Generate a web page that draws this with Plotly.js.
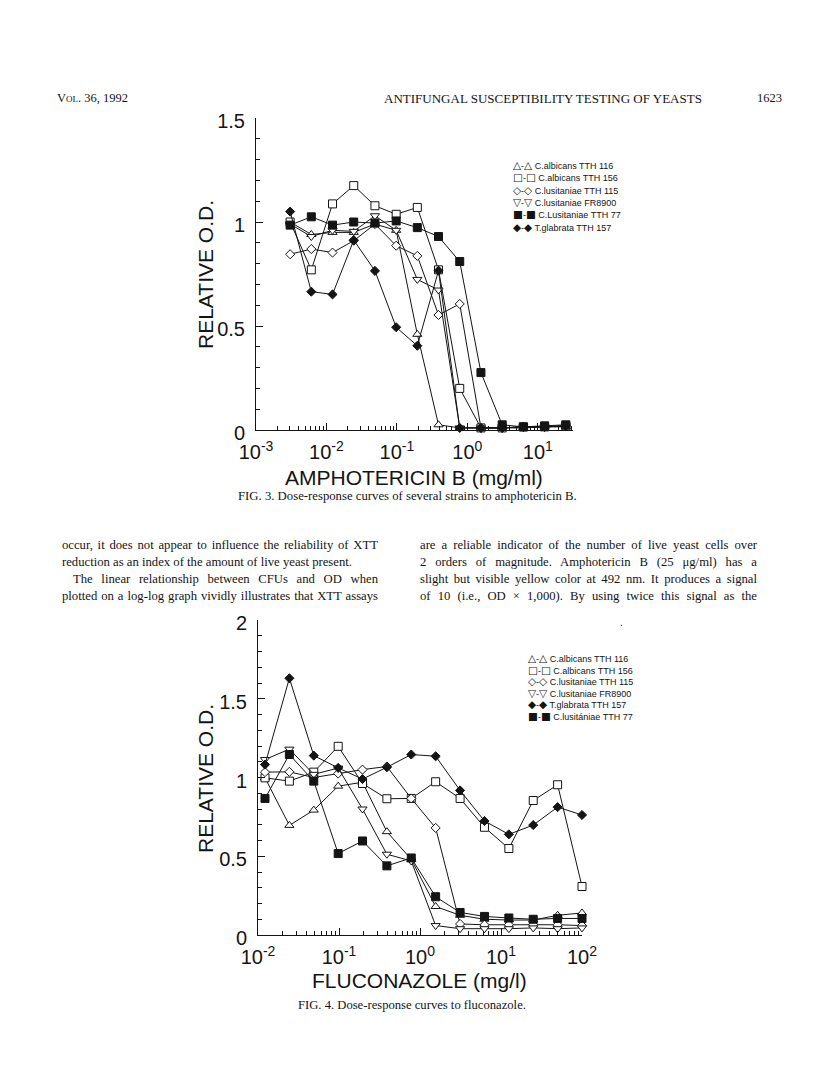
<!DOCTYPE html>
<html>
<head>
<meta charset="utf-8">
<script src="https://cdn.plot.ly/plotly-3.0.1.min.js"></script>
<style>
  html, body { margin: 0; padding: 0; background: #ffffff; }
  #page { position: relative; width: 816px; height: 1092px; overflow: hidden; }
  #chart { position: absolute; left: 0; top: 0; width: 816px; height: 1092px; }
  .t { position: absolute; font-family: "Liberation Serif", "DejaVu Serif", serif; color: #141414; white-space: nowrap; line-height: 1; }
  .j { text-align: justify; text-align-last: justify; white-space: normal; }
</style>
</head>
<body>
<div id="page">
  <div id="chart"></div>
  <div class="t" id="hdrL" style="left:57px; top:92px; font-size:12.5px; font-variant:small-caps;">Vol. 36, 1992</div>
  <div class="t" id="hdrC" style="left:384px; top:92px; font-size:12px;">ANTIFUNGAL SUSCEPTIBILITY TESTING OF YEASTS</div>
  <div class="t" id="hdrR" style="left:757px; top:92px; font-size:12.5px;">1623</div>
  <div class="t" id="cap3" style="left:238px; top:490px; font-size:12.5px;">FIG. 3. Dose-response curves of several strains to amphotericin B.</div>
  <div class="t" id="cap4" style="left:298px; top:999px; font-size:12.5px;">FIG. 4. Dose-response curves to fluconazole.</div>
  <div class="t j" style="left:62px; top:539px; width:316px; font-size:12.7px;">occur, it does not appear to influence the reliability of XTT</div>
  <div class="t" style="left:62px; top:556px; font-size:12.7px;">reduction as an index of the amount of live yeast present.</div>
  <div class="t j" style="left:73px; top:573px; width:305px; font-size:12.7px;">The linear relationship between CFUs and OD when</div>
  <div class="t j" style="left:62px; top:590px; width:316px; font-size:12.7px;">plotted on a log-log graph vividly illustrates that XTT assays</div>
  <div class="t j" style="left:420px; top:539px; width:337px; font-size:12.7px;">are a reliable indicator of the number of live yeast cells over</div>
  <div class="t j" style="left:420px; top:556px; width:337px; font-size:12.7px;">2 orders of magnitude. Amphotericin B (25 &#956;g/ml) has a</div>
  <div class="t j" style="left:420px; top:573px; width:337px; font-size:12.7px;">slight but visible yellow color at 492 nm. It produces a signal</div>
  <div class="t j" style="left:420px; top:590px; width:337px; font-size:12.7px;">of 10 (i.e., OD &#215; 1,000). By using twice this signal as the</div>
</div>
<script>
// ---------- DATA ----------
// Fig. 3: amphotericin B doses (mg/ml)
const ampDose = [0.00305, 0.0061, 0.0122, 0.0244, 0.0488, 0.0977, 0.195, 0.39, 0.78, 1.56, 3.125, 6.25, 12.5, 25];
const ampNames = ['C.albicans TTH 116', 'C.albicans TTH 156', 'C.lusitaniae TTH 115', 'C.lusitaniae FR8900', 'C.Lusitaniae TTH 77', 'T.glabrata TTH 157'];
const ampAlb116  = [1.00, 0.94, 0.95, 0.95, 0.99, 0.96, 0.46, 0.025, 0.01, 0.01, 0.01, 0.01, 0.015, 0.015];
const ampAlb156  = [1.00, 0.77, 1.087, 1.175, 1.078, 1.037, 1.07, 0.77, 0.20, 0.01, 0.01, 0.015, 0.015, 0.02];
const ampLus115  = [0.845, 0.87, 0.853, 0.91, 0.99, 0.886, 0.837, 0.553, 0.606, 0.01, 0.01, 0.015, 0.015, 0.02];
const ampFR8900  = [0.99, 0.93, 0.96, 0.955, 1.03, 0.96, 0.724, 0.673, 0.01, 0.01, 0.01, 0.015, 0.015, 0.02];
const ampLus77   = [0.985, 1.025, 0.985, 1.0, 0.995, 1.005, 0.973, 0.93, 0.81, 0.276, 0.025, 0.015, 0.02, 0.025];
const ampGlab157 = [1.05, 0.665, 0.652, 0.913, 0.765, 0.494, 0.405, 0.766, 0.01, 0.01, 0.01, 0.015, 0.015, 0.02];

// Fig. 4: fluconazole doses (mg/l)
const fluDose = [0.0122, 0.0244, 0.0488, 0.0977, 0.195, 0.39, 0.78, 1.56, 3.125, 6.25, 12.5, 25, 50, 100];
const fluNames = ['C.albicans TTH 116', 'C.albicans TTH 156', 'C.lusitaniae TTH 115', 'C.lusitaniae FR8900', 'T.glabrata TTH 157', 'C.lusit\u00e1niae TTH 77'];
const fluAlb116  = [0.998, 0.696, 0.793, 0.945, 0.97, 0.656, 0.48, 0.181, 0.125, 0.10, 0.095, 0.095, 0.125, 0.14];
const fluAlb156  = [0.998, 0.977, 1.034, 1.198, 0.962, 0.865, 0.867, 0.973, 0.867, 0.684, 0.549, 0.854, 0.954, 0.308];
const fluLus115  = [1.034, 1.036, 1.0, 1.025, 1.05, 1.07, 0.867, 0.68, 0.07, 0.065, 0.065, 0.065, 0.065, 0.06];
const fluFR8900  = [1.114, 1.18, 1.02, 1.06, 0.80, 0.513, 0.47, 0.06, 0.04, 0.04, 0.04, 0.045, 0.04, 0.045];
const fluGlab157 = [1.082, 1.63, 1.139, 1.061, 0.99, 1.065, 1.146, 1.135, 0.918, 0.724, 0.639, 0.698, 0.812, 0.762];
const fluLus77   = [0.867, 1.146, 0.977, 0.517, 0.597, 0.439, 0.489, 0.243, 0.143, 0.118, 0.108, 0.10, 0.105, 0.105];

// tick labels
const ampTickVals = [0.001, 0.01, 0.1, 1, 10];
const ampTickText = ['10<sup>-3</sup>', '10<sup>-2</sup>', '10<sup>-1</sup>', '10<sup>0</sup>', '10<sup>1</sup>'];
const fluTickVals = [0.01, 0.1, 1, 10, 100];
const fluTickText = ['10<sup>-2</sup>', '10<sup>-1</sup>', '10<sup>0</sup>', '10<sup>1</sup>', '10<sup>2</sup>'];
const ampYVals = [0, 0.5, 1, 1.5];
const ampYText = ['0', '0.5', '1', '1.5'];
const fluYVals = [0, 0.5, 1, 1.5, 2];
const fluYText = ['0', '0.5', '1', '1.5', '2'];

// ---------- STYLE ----------
const INK = '#141414';
const W = 816, H = 1092;
const px = v => v / W;
const py = v => 1 - v / H;

const styles = {
  triUp:   { symbol: 'triangle-up',   filled: false, size: 8, glyph: '\u25B3' },
  sqOpen:  { symbol: 'square',        filled: false, size: 8, glyph: '\u25A1' },
  diaOpen: { symbol: 'diamond',       filled: false, size: 7, glyph: '\u25C7' },
  triDown: { symbol: 'triangle-down', filled: false, size: 8, glyph: '\u25BD' },
  sqFill:  { symbol: 'square',        filled: true,  size: 8, glyph: '\u25A0' },
  diaFill: { symbol: 'diamond',       filled: true,  size: 7, glyph: '\u25C6' }
};

function trace(x, y, st, name, xa, ya) {
  return {
    type: 'scatter', mode: 'lines+markers', x: x, y: y, name: name,
    xaxis: xa, yaxis: ya, cliponaxis: false, showlegend: false,
    line: { color: INK, width: 1 },
    marker: { symbol: st.symbol, size: st.size, color: st.filled ? INK : '#ffffff',
              line: { color: INK, width: 1 } }
  };
}

const ampSeries = [ampAlb116, ampAlb156, ampLus115, ampFR8900, ampLus77, ampGlab157];
const ampStyles = [styles.triUp, styles.sqOpen, styles.diaOpen, styles.triDown, styles.sqFill, styles.diaFill];
const fluSeries = [fluAlb116, fluAlb156, fluLus115, fluFR8900, fluGlab157, fluLus77];
const fluStyles = [styles.triUp, styles.sqOpen, styles.diaOpen, styles.triDown, styles.diaFill, styles.sqFill];

const data = [];
ampSeries.forEach((s, i) => data.push(trace(ampDose, s, ampStyles[i], ampNames[i], 'x', 'y')));
fluSeries.forEach((s, i) => data.push(trace(fluDose, s, fluStyles[i], fluNames[i], 'x2', 'y2')));

const tickFont = { family: 'Liberation Sans, Arial, sans-serif', size: 20, color: INK };

function xAxis(dom, range, tv, tt, anchor) {
  return {
    type: 'log', domain: dom, range: range, anchor: anchor,
    tickmode: 'array', tickvals: tv, ticktext: tt,
    ticks: 'inside', ticklen: 7, tickwidth: 1, tickcolor: INK,
    minor: { ticks: 'inside', ticklen: 4, tickwidth: 1, tickcolor: INK, dtick: 'D1', showgrid: false },
    showline: true, linecolor: INK, linewidth: 1, showgrid: false, zeroline: false,
    tickfont: tickFont, ticklabelstandoff: 4
  };
}
function yAxis(dom, range, tv, tt, anchor) {
  return {
    domain: dom, range: range, anchor: anchor,
    tickmode: 'array', tickvals: tv, ticktext: tt,
    ticks: 'inside', ticklen: 7, tickwidth: 1, tickcolor: INK,
    minor: { ticks: 'inside', ticklen: 4, tickwidth: 1, tickcolor: INK, dtick: 0.1, showgrid: false },
    showline: true, linecolor: INK, linewidth: 1, showgrid: false, zeroline: false,
    tickfont: tickFont, ticklabelstandoff: 6, ticklabelshift: 3
  };
}

const titleFont = { family: 'Liberation Sans, Arial, sans-serif', size: 21, color: INK };
const legFont = { family: 'Liberation Sans Narrow, Liberation Sans, DejaVu Sans, sans-serif', size: 9, color: INK };

const annotations = [
  { text: 'RELATIVE O.D.', textangle: -90, x: px(205), y: py(275), xref: 'paper', yref: 'paper', showarrow: false, font: titleFont, xanchor: 'center', yanchor: 'middle' },
  { text: 'AMPHOTERICIN B (mg/ml)', x: px(414), y: py(477), xref: 'paper', yref: 'paper', showarrow: false, font: titleFont, xanchor: 'center', yanchor: 'middle' },
  { text: 'RELATIVE O.D.', textangle: -90, x: px(205), y: py(779), xref: 'paper', yref: 'paper', showarrow: false, font: titleFont, xanchor: 'center', yanchor: 'middle' },
  { text: 'FLUCONAZOLE (mg/l)', x: px(420), y: py(980), xref: 'paper', yref: 'paper', showarrow: false, font: titleFont, xanchor: 'center', yanchor: 'middle' },
  { text: '.', x: px(621), y: py(622), xref: 'paper', yref: 'paper', showarrow: false, font: { family: 'Liberation Sans', size: 10, color: INK }, xanchor: 'center', yanchor: 'middle' }
];

function legendRows(names, sts, x0, y0, step) {
  names.forEach((n, i) => {
    const g = '<span style="font-family:DejaVu Sans;font-size:10.5px">' + sts[i].glyph + '</span>';
    annotations.push({
      text: g + '-' + g + ' ' + n,
      x: px(x0), y: py(y0 + i * step), xref: 'paper', yref: 'paper', showarrow: false,
      font: legFont, xanchor: 'left', yanchor: 'middle'
    });
  });
}
legendRows(ampNames, ampStyles, 511, 165, 12.3);
legendRows(fluNames, fluStyles, 526, 658, 11.6);

const layout = {
  width: W, height: H, margin: { l: 0, r: 0, t: 0, b: 0, pad: 0 },
  paper_bgcolor: '#ffffff', plot_bgcolor: 'rgba(0,0,0,0)', showlegend: false,
  xaxis:  xAxis([px(256), px(573)], [-3, 1.5], ampTickVals, ampTickText, 'y'),
  yaxis:  yAxis([py(430), py(118)], [0, 1.5], ampYVals, ampYText, 'x'),
  xaxis2: xAxis([px(258), px(582)], [-2, 2], fluTickVals, fluTickText, 'y2'),
  yaxis2: yAxis([py(935), py(620)], [0, 2], fluYVals, fluYText, 'x2'),
  annotations: annotations
};

Plotly.newPlot('chart', data, layout, { staticPlot: true, displayModeBar: false });

// fit single-line header/caption widths to the page
function fitWidth(id, target) {
  const el = document.getElementById(id);
  const w = el.getBoundingClientRect().width;
  const fs = parseFloat(getComputedStyle(el).fontSize);
  el.style.fontSize = (fs * target / w).toFixed(2) + 'px';
}
fitWidth('hdrC', 318);
fitWidth('cap3', 339);
fitWidth('cap4', 228);
</script>
</body>
</html>
